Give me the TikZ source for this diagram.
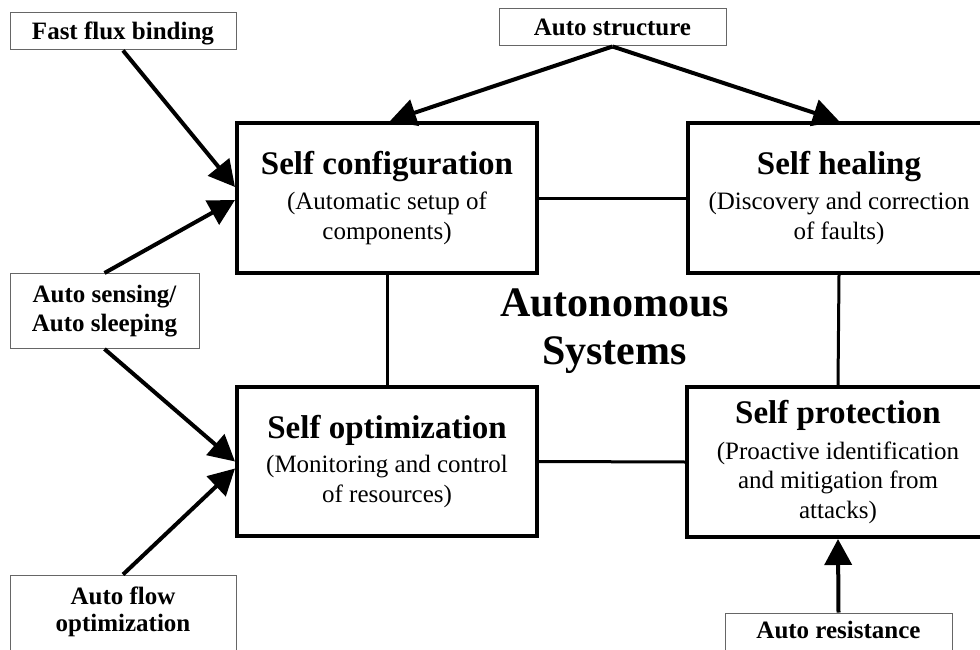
\documentclass[tikz,border=0pt]{standalone}
\usepackage{fontspec}
\setmainfont{Liberation Serif}
\usetikzlibrary{arrows.meta,calc}

\newcommand\boxtitle[1]{{\fontsize{33}{33}\selectfont\bfseries #1}}

\begin{document}
\begin{tikzpicture}[x=1pt,y=-1pt,
  mainbox/.style={draw, line width=4pt, minimum width=300pt, minimum height=150pt,
    align=center, inner sep=0pt, font=\fontsize{25}{29.5}\selectfont},
  tagbox/.style={draw=black!60, line width=1pt, align=center, inner sep=0pt,
    font=\fontsize{25}{29}\selectfont\bfseries},
  tagtext/.style={align=center, inner sep=0pt, font=\fontsize{25}{27}\selectfont\bfseries},
  feed/.style={line width=4pt, -{Triangle[length=26pt,width=27pt]}},
  link/.style={line width=3pt},
]
\useasboundingbox (0,0) rectangle (980,650);
\clip (0,0) rectangle (980,650);

% the four self-* functions
\node[mainbox] (cfg) at (387,198)
  {\boxtitle{Self configuration}\\[6pt] (Automatic setup of\\ components)};
\node[mainbox, minimum width=302pt] (heal) at (839,198)
  {\boxtitle{Self healing}\\[6pt] (Discovery and correction\\ of faults)};
\node[mainbox, minimum height=149pt] (opt) at (387,461.5)
  {\boxtitle{Self optimization}\\[5pt] (Monitoring and control\\ of resources)};
\node[mainbox, minimum width=302pt] (prot) at (838,462)
  {\boxtitle{Self protection}\\[6pt] (Proactive identification\\ and mitigation from\\ attacks)};

% centre label
\node[align=center, inner sep=0pt, font=\fontsize{42}{48}\selectfont\bfseries] (auto) at (614.5,331)
  {Autonomous\\ Systems};

% mechanisms feeding the functions
\node[tagbox, minimum width=226pt, minimum height=37pt, text height=17pt, text depth=0pt] (ffb) at (123,31.5) {Fast flux binding};
\node[tagbox, minimum width=227pt, minimum height=37pt, text height=16pt, text depth=0pt] (ast) at (612.5,27.5) {Auto structure};
\node[tagbox, minimum width=189pt, minimum height=75pt] (sens) at (104.5,311) {Auto sensing/\\ Auto sleeping};
\node[tagbox, minimum width=226pt, minimum height=90pt] (flow) at (123,620) {};
\node[tagtext] (flowtxt) at (123,612) {Auto flow\\ optimization};
\node[tagbox, minimum width=227pt, minimum height=60pt] (res) at (838.5,643) {};
\node[tagtext, anchor=base] (restxt) at (838.5,638) {Auto resistance};

% links between the functions
\draw[link] (cfg.east) -- (heal.west);
\draw[link] (opt.east) -- (prot.west);
\draw[link] (cfg.south) -- (opt.north);
\draw[link] (heal.south) -- (prot.north);

% arrows
\draw[feed] (ffb.south) -- ([yshift=11pt]cfg.west);
\draw[feed] (sens.north) -- ([yshift=-2pt]cfg.west);
\draw[feed] (sens.south) -- (opt.west);
\draw[feed] (flow.north) -- ([yshift=-7pt]opt.west);
\draw[feed] (ast.south) -- ([xshift=3pt]cfg.north);
\draw[feed] (ast.south) -- (heal.north);
\draw[feed] (res.north) -- (prot.south);
\end{tikzpicture}
\end{document}
